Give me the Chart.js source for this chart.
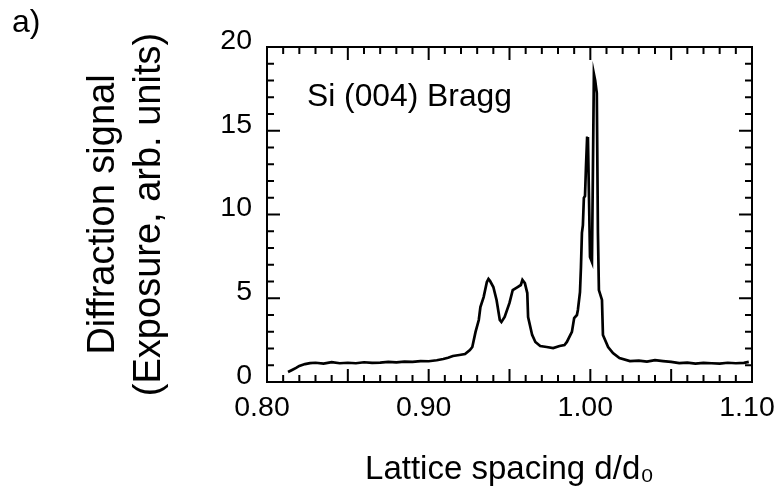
<!DOCTYPE html>
<html>
<head>
<meta charset="utf-8">
<script src="https://cdn.jsdelivr.net/npm/chart.js@4.4.1/dist/chart.umd.min.js"></script>
<style>
html,body{margin:0;padding:0;background:#fff;}
#wrap{width:778px;height:494px;}
</style>
</head>
<body>
<div id="wrap"><canvas id="c" width="778" height="494"></canvas></div>
<script>
// Lattice spacing d/d0 (x) and diffraction signal (y)
const dSpacing = [
  0.813, 0.8155, 0.818, 0.820, 0.8235, 0.8266, 0.830, 0.835, 0.840, 0.845,
  0.850, 0.855, 0.860, 0.865, 0.870, 0.875, 0.880, 0.885, 0.890, 0.895,
  0.900, 0.905, 0.909, 0.912, 0.915, 0.919, 0.9225, 0.9255, 0.927, 0.929,
  0.931, 0.932, 0.934, 0.936, 0.937, 0.938, 0.940, 0.942, 0.944, 0.945,
  0.947, 0.950, 0.952, 0.955, 0.957, 0.958, 0.9595, 0.961, 0.9615, 0.964,
  0.966, 0.969, 0.973, 0.977, 0.981, 0.984, 0.9855, 0.9886, 0.990, 0.9917,
  0.9923, 0.9936, 0.9942, 0.9948, 0.9954, 0.9960, 0.9967, 0.9973, 0.998, 0.9985,
  0.9992, 0.9998, 1.001, 1.0016, 1.0022, 1.003, 1.004, 1.0047, 1.0053, 1.0072,
  1.0078, 1.011, 1.014, 1.018, 1.0245, 1.030, 1.035, 1.040, 1.045, 1.050,
  1.055, 1.060, 1.065, 1.070, 1.075, 1.080, 1.085, 1.090, 1.095, 1.098
];
const signal = [
  0.60, 0.72, 0.84, 0.96, 1.07, 1.13, 1.15, 1.10, 1.18, 1.12,
  1.15, 1.12, 1.18, 1.14, 1.16, 1.20, 1.17, 1.22, 1.20, 1.25,
  1.24, 1.30, 1.37, 1.45, 1.55, 1.61, 1.67, 1.91, 2.09, 2.99,
  3.70, 4.48, 5.07, 5.97, 6.15, 6.03, 5.67, 4.90, 3.70, 3.58,
  3.88, 4.72, 5.49, 5.67, 5.79, 6.09, 5.90, 5.31, 3.88, 2.81,
  2.39, 2.15, 2.09, 2.03, 2.15, 2.21, 2.39, 2.99, 3.82, 4.00,
  4.30, 5.37, 6.87, 8.90, 9.37, 10.99, 11.10, 12.84, 14.57, 14.63,
  10.87, 7.46, 7.16, 12.66, 18.39, 18.00, 17.25, 8.90, 5.49, 4.90,
  2.81, 2.09, 1.73, 1.43, 1.25, 1.28, 1.22, 1.30, 1.25, 1.20,
  1.13, 1.16, 1.10, 1.14, 1.12, 1.10, 1.15, 1.12, 1.14, 1.20
];
const xTickLabels = ['0.80', '0.90', '1.00', '1.10'];
const yTickLabels = ['0', '5', '10', '15', '20'];
const xMajorTicks = [0.80, 0.85, 0.90, 0.95, 1.00, 1.05, 1.10];
const xMinorTicks = [0.81,0.82,0.83,0.84,0.86,0.87,0.88,0.89,0.91,0.92,0.93,0.94,0.96,0.97,0.98,0.99,1.01,1.02,1.03,1.04,1.06,1.07,1.08,1.09];
const yMajorTicks = [0, 5, 10, 15, 20];
const yMinorTicks = [1,2,3,4,6,7,8,9,11,12,13,14,16,17,18,19];
const annotationText = 'Si (004) Bragg';
const panelLabel = 'a)';

const FONT = '"Liberation Sans", Arial, Helvetica, sans-serif';

const framePlugin = {
  id: 'frameTicks',
  afterDatasetsDraw(chart) {
    const {ctx, chartArea: a, scales: {x, y}} = chart;
    ctx.save();
    ctx.strokeStyle = '#000';
    ctx.lineWidth = 2;
    ctx.strokeRect(a.left, a.top, a.right - a.left, a.bottom - a.top);
    const MAJ = 13, MIN = 7;
    ctx.beginPath();
    const xt = (v, len) => {
      const p = x.getPixelForValue(v);
      ctx.moveTo(p, a.bottom); ctx.lineTo(p, a.bottom - len);
      ctx.moveTo(p, a.top); ctx.lineTo(p, a.top + len);
    };
    const yt = (v, len) => {
      const p = y.getPixelForValue(v);
      ctx.moveTo(a.left, p); ctx.lineTo(a.left + len, p);
      ctx.moveTo(a.right, p); ctx.lineTo(a.right - len, p);
    };
    xMajorTicks.forEach(v => xt(v, MAJ));
    xMinorTicks.forEach(v => xt(v, MIN));
    yMajorTicks.forEach(v => yt(v, MAJ));
    yMinorTicks.forEach(v => yt(v, MIN));
    ctx.stroke();
    // annotation
    ctx.fillStyle = '#000';
    ctx.font = '31.8px ' + FONT;
    ctx.textBaseline = 'alphabetic';
    ctx.textAlign = 'left';
    ctx.fillText(annotationText, x.getPixelForValue(0.8247), y.getPixelForValue(16.5));
    // panel label
    ctx.font = '32px ' + FONT;
    ctx.fillText(panelLabel, 12, 32);
    ctx.restore();
  }
};

new Chart(document.getElementById('c'), {
  type: 'scatter',
  data: {
    datasets: [{
      data: dSpacing.map((v, i) => ({x: v, y: signal[i]})),
      showLine: true,
      borderColor: '#000',
      borderWidth: 2.7,
      pointRadius: 0,
      tension: 0,
      fill: false
    }]
  },
  options: {
    responsive: false,
    animation: false,
    layout: {padding: {left: 0, top: 47, right: 26, bottom: 0}},
    plugins: {legend: {display: false}, tooltip: {enabled: false}},
    scales: {
      x: {
        type: 'linear', min: 0.8, max: 1.1,
        afterBuildTicks: s => { s.ticks = xTickLabels.map(t => ({value: parseFloat(t)})); },
        afterFit: s => { s.height = 112; s.paddingLeft = 0; s.paddingRight = 0; },
        grid: {display: false, drawTicks: false, tickLength: 0},
        border: {display: false},
        ticks: {
          color: '#000', padding: 9, labelOffset: -5, maxRotation: 0, autoSkip: false,
          font: {family: FONT, size: 28.5},
          callback: (v) => { const i = xTickLabels.findIndex(t => Math.abs(parseFloat(t) - v) < 1e-6); return i >= 0 ? xTickLabels[i] : ''; }
        },
        title: {
          display: true, text: 'Lattice spacing d/d₀', color: '#000',
          font: {family: FONT, size: 33}, padding: {top: 0, bottom: 4}
        }
      },
      y: {
        type: 'linear', min: 0, max: 20,
        afterBuildTicks: s => { s.ticks = yTickLabels.map(t => ({value: parseFloat(t)})); },
        afterFit: s => { s.width = 267; s.paddingTop = 0; s.paddingBottom = 0; },
        grid: {display: false, drawTicks: false, tickLength: 0},
        border: {display: false},
        ticks: {
          color: '#000', padding: 15, labelOffset: -6, autoSkip: false,
          font: {family: FONT, size: 28.5},
          callback: (v) => { const i = yTickLabels.findIndex(t => Math.abs(parseFloat(t) - v) < 1e-6); return i >= 0 ? yTickLabels[i] : ''; }
        },
        title: {
          display: true, text: ['Diffraction signal', '(Exposure, arb. units)'], color: '#000',
          font: {family: FONT, size: 38, lineHeight: 1.2}, padding: {top: 81, bottom: 0}
        }
      }
    }
  },
  plugins: [framePlugin]
});
</script>
</body>
</html>
